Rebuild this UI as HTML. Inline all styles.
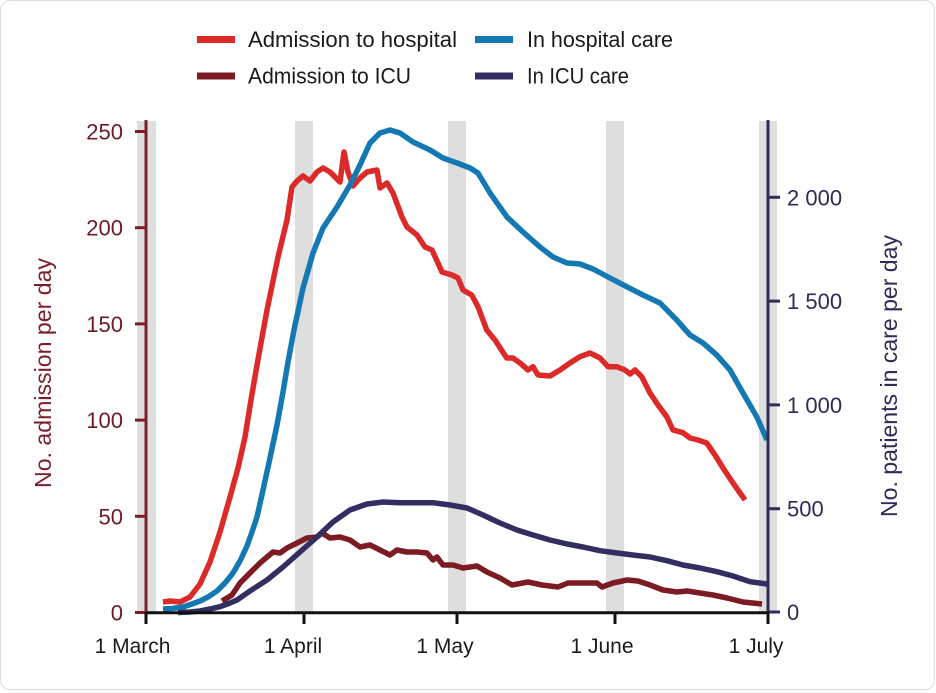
<!DOCTYPE html>
<html><head><meta charset="utf-8"><style>
html,body{margin:0;padding:0;background:#fff;}
.card{position:absolute;left:0;top:0;width:933px;height:688px;border:1.5px solid #dcdcdc;border-radius:10px;background:#fff;}
svg{position:absolute;left:0;top:0;}
text{font-family:"Liberation Sans",Arial,sans-serif;}
</style></head><body>
<div class="card"></div>
<svg width="936" height="693" viewBox="0 0 936 693" xmlns="http://www.w3.org/2000/svg">
<!-- gray bands -->
<g fill="#dedede">
<rect x="137" y="121" width="19" height="491"/>
<rect x="295" y="121" width="18" height="491"/>
<rect x="448" y="121" width="18" height="491"/>
<rect x="606" y="121" width="18" height="491"/>
<rect x="759" y="121" width="18" height="491"/>
</g>
<!-- legend -->
<rect x="197" y="36" width="38" height="7" fill="#dc2a28"/>
<rect x="197" y="72.5" width="38" height="7" fill="#7d1b24"/>
<rect x="475" y="36" width="38" height="7" fill="#1479b3"/>
<rect x="475" y="72.5" width="38" height="7" fill="#312f62"/>
<g font-size="22" fill="#1a1a1a">
<text x="248" y="47" textLength="209" lengthAdjust="spacingAndGlyphs">Admission to hospital</text>
<text x="248" y="83.5" textLength="163" lengthAdjust="spacingAndGlyphs">Admission to ICU</text>
<text x="527" y="47" textLength="146" lengthAdjust="spacingAndGlyphs">In hospital care</text>
<text x="527" y="83.5" textLength="102" lengthAdjust="spacingAndGlyphs">In ICU care</text>
</g>
<!-- series -->
<g fill="none" stroke-width="5.5" stroke-linejoin="round">
<polyline stroke="#dc2a28" points="163,602 170,601 180,602 190,597 200,584 210,562 220,532 230,497 238,468 245,437 251,400 257,365 267,310 278,257 287,220 292,187 297,181 303,176 310,181 317,172 323,168 330,172 336,178 340,182 344,152 348,172 353,186 360,178 367,172 377,170 380,188 387,183 393,193 402,217 407,227 417,235 425,247 432,250 442,272 452,275 458,278 463,290 471.7,295 478,306.7 486.7,330 495,340 506.7,358 513,358 520,363 528,370 533,366.7 538,375 550,376 560,370 570,363 580,356.7 590,353 600,358 608,366.7 616.7,366.7 625,370 630,374 635,370 641.7,376.7 650,393 658,405 666.7,416.7 673,430 683,432.7 690,438 698,440 706.7,443 715,455 723,468 733,483 745,500"/>
<polyline stroke="#7d1b24" points="222,601 232,595 240,583 250,573 260,563 273,552 280,553 287,548 297,543 307,538 317,537 322,533 330,538 340,537 350,540 360,547 370,545 380,550 390,555 397,550 407,552 417,552 427,553 433,560 437,557 443,565 453,565 463,568 477,566 487,572 500,578 512,585 528,582 542,585 558,587 568,583 583,583 597,583 602,587 613,583 627,580 638,581 650,585 663,590 677,592 687,591 700,593 713,595 727,598 743,602 762,604"/>
<polyline stroke="#1479b3" points="163,609 172,608.5 183,607 192,604 200,601 208,597 217,591 225,583 233,573 240,561 247,546 252,532 257,517 263,490 270,458 277,425 283,392 288,362 294,330 303,288 313,253 323,228 337,207 350,185 360,165 370,143 380,133 390,130 400,133 413,142 430,150 443,158 457,163 470,168 478,173 490,193 507,217 523,232 540,247 553,257 567,263 580,264 593,269 610,278 626.7,286.7 643,295 660,303 676.7,320 690,335 703,343 716.7,355 730,370 743,393 756.7,416.7 767,440"/>
<polyline stroke="#312f62" points="178,612.5 190,612 200,611 210,609 220,606.7 230,603 237,600 250,591 267,580 283,567 300,552 317,537 333,522 350,510 367,504 383,502 400,502.7 417,502.7 433,502.7 450,505 467,508 483,515 500,523 517,530 533,535 550,540 567,544 583,547 600,550.7 617,553 633,555 650,557 667,560.7 683,565 700,568 717,571.7 733,576 750,581.7 767,584"/>
</g>
<!-- left axis -->
<g stroke="#7a1e2c" stroke-width="3">
<line x1="146" y1="120" x2="146" y2="614"/>
<line x1="135" y1="612.5" x2="146" y2="612.5"/>
<line x1="135" y1="516.3" x2="146" y2="516.3"/>
<line x1="135" y1="420.1" x2="146" y2="420.1"/>
<line x1="135" y1="323.9" x2="146" y2="323.9"/>
<line x1="135" y1="227.7" x2="146" y2="227.7"/>
<line x1="135" y1="131.5" x2="146" y2="131.5"/>
</g>
<g font-size="22" fill="#6d1a27" text-anchor="end">
<text x="123" y="620.5">0</text>
<text x="123" y="524.3">50</text>
<text x="123" y="428.1">100</text>
<text x="123" y="331.9">150</text>
<text x="123" y="235.7">200</text>
<text x="123" y="139.5">250</text>
</g>
<text transform="translate(51,373) rotate(-90)" font-size="23" fill="#7a1e2c" text-anchor="middle" textLength="230" lengthAdjust="spacingAndGlyphs">No. admission per day</text>
<!-- right axis -->
<g stroke="#2f2e5a" stroke-width="3">
<line x1="768" y1="120" x2="768" y2="614"/>
<line x1="768" y1="612" x2="780" y2="612"/>
<line x1="768" y1="508.7" x2="780" y2="508.7"/>
<line x1="768" y1="404.9" x2="780" y2="404.9"/>
<line x1="768" y1="301.1" x2="780" y2="301.1"/>
<line x1="768" y1="197.3" x2="780" y2="197.3"/>
</g>
<g font-size="22" fill="#2d2c55">
<text x="787" y="620">0</text>
<text x="787" y="516.7">500</text>
<text x="787" y="412.9">1 000</text>
<text x="787" y="309.1">1 500</text>
<text x="787" y="205.3">2 000</text>
</g>
<text transform="translate(897,376) rotate(-90)" font-size="23" fill="#2d2c55" text-anchor="middle" textLength="282" lengthAdjust="spacingAndGlyphs">No. patients in care per day</text>
<!-- x axis -->
<g stroke="#111" stroke-width="3">
<line x1="146" y1="612.7" x2="769" y2="612.7"/>
<line x1="146" y1="612" x2="146" y2="624"/>
<line x1="304" y1="612" x2="304" y2="624"/>
<line x1="457" y1="612" x2="457" y2="624"/>
<line x1="615" y1="612" x2="615" y2="624"/>
<line x1="768" y1="612" x2="768" y2="624"/>
</g>
<g font-size="21" fill="#1a1a1a" text-anchor="middle">
<text x="132.5" y="653">1 March</text>
<text x="293" y="653">1 April</text>
<text x="445" y="653">1 May</text>
<text x="602" y="653">1 June</text>
<text x="756" y="653">1 July</text>
</g>
</svg>
</body></html>
